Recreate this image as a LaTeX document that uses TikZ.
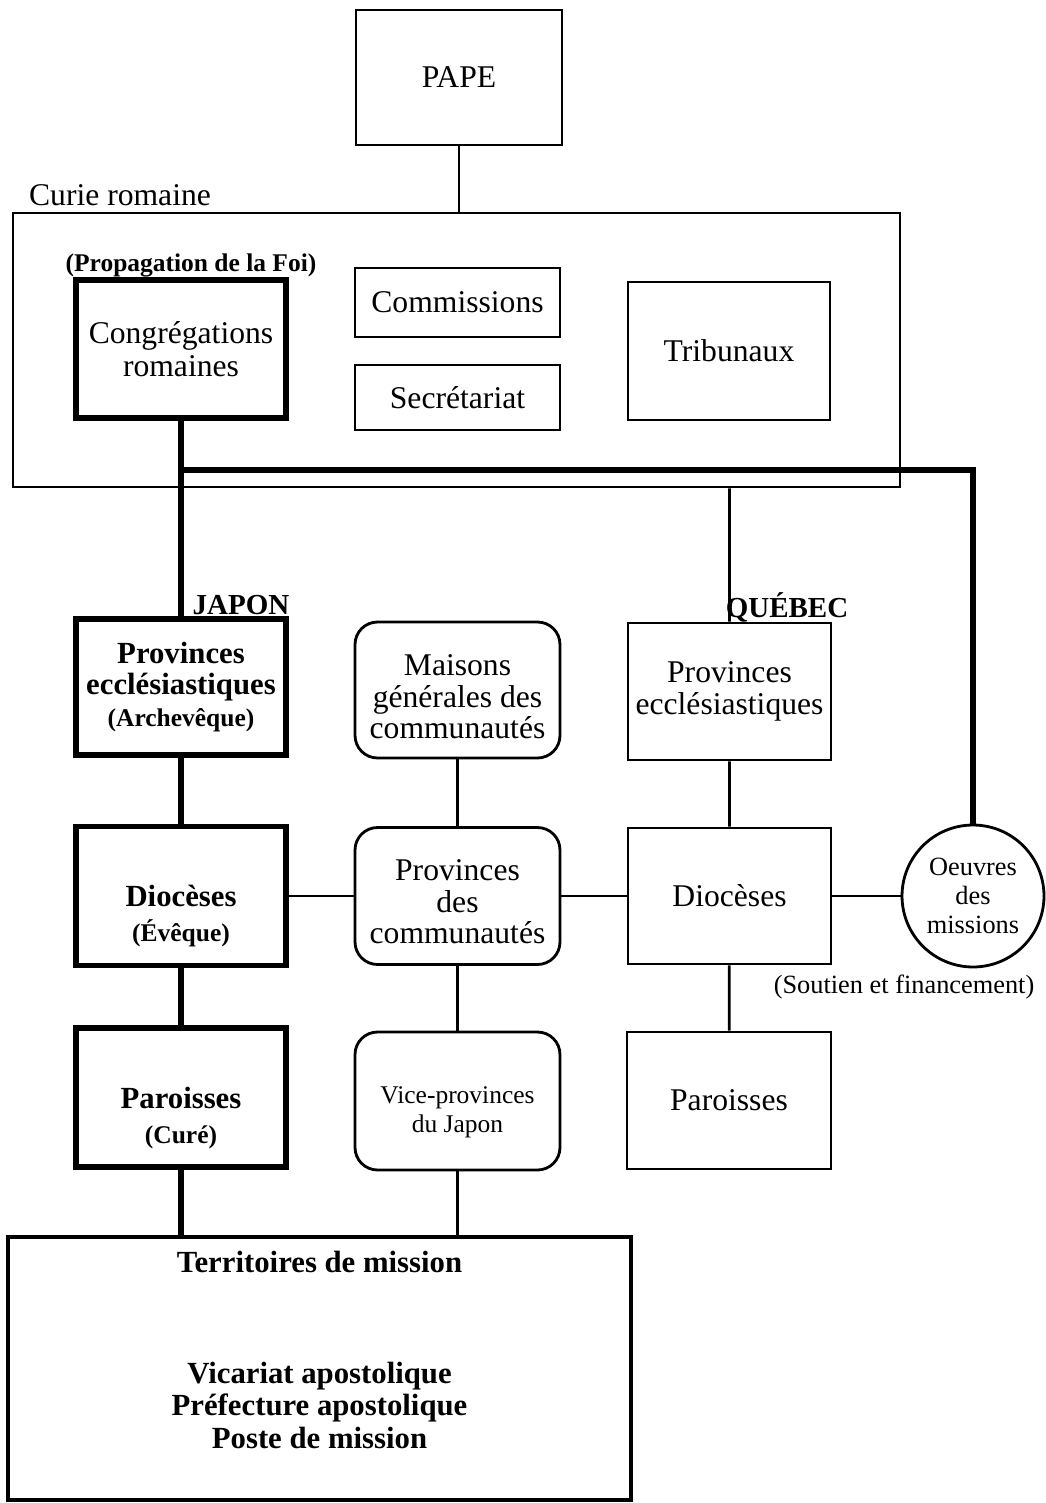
\documentclass[tikz,border=0pt]{standalone}
\usepackage{fontspec}
\setmainfont{Liberation Serif}
\usepackage{tikz}

\begin{document}
\begin{tikzpicture}[x=0.02cm, y=-0.02cm,
        box/.style={draw, line width=1.6pt, inner sep=0pt, align=center, font=\fontsize{18}{18}\selectfont},
        heavy/.style={box, line width=3pt},
        roundbox/.style={box, rounded corners=0.45cm},
        tag/.style={inner sep=0pt, align=center, font=\bfseries\fontsize{14.5}{16}\selectfont},
        plain/.style={inner sep=0pt, align=center, font=\fontsize{18}{18}\selectfont},
        link/.style={line width=1.6pt},
        biglink/.style={line width=3.4pt}]
                \useasboundingbox (0,0) rectangle (1045,1503);

                \node[box, minimum width=4.12cm, minimum height=2.7cm] (pape) at (459,77.5) {PAPE};
                \node[plain] (curieT) at (120,195) {Curie romaine};
                \node[box, minimum width=17.74cm, minimum height=5.48cm] (curie) at (456.5,350) {};

                \node[tag] (propag) at (191,265) {(Propagation de la Foi)};
                \node[heavy, minimum width=4.2cm, minimum height=2.76cm, font=\fontsize{18}{19}\selectfont] (cong) at (181,349) {Congrégations\\romaines};
                \node[box, minimum width=4.1cm, minimum height=1.38cm] (comm) at (457.5,302.5) {Commissions};
                \node[box, minimum width=4.1cm, minimum height=1.3cm] (secr) at (457.5,397.5) {Secrétariat};
                \node[box, minimum width=4.04cm, minimum height=2.76cm] (trib) at (729,351) {Tribunaux};

                \node[tag, font=\bfseries\fontsize{16.5}{18}\selectfont] (japon) at (241,605) {JAPON};
                \node[tag, font=\bfseries\fontsize{16.5}{18}\selectfont] (quebec) at (787,607) {QUÉBEC};

                \node[heavy, minimum width=4.2cm, minimum height=2.72cm, font=\bfseries\fontsize{17.5}{18}\selectfont] (provJ) at (181,687)
                    {Provinces\\ecclésiastiques\\{\fontsize{14.5}{15}\selectfont(Archevêque)}};
                \node[heavy, minimum width=4.2cm, minimum height=2.78cm, font=\bfseries\fontsize{17.5}{18}\selectfont] (dioJ) at (181,896) {Diocèses};
                \node[tag] (eveque) at (181,933) {(Évêque)};
                \node[heavy, minimum width=4.2cm, minimum height=2.78cm, font=\bfseries\fontsize{17.5}{18}\selectfont] (parJ) at (181,1097.5) {Paroisses};
                \node[tag] (cure) at (181,1137) {(Curé)};

                \node[roundbox, minimum width=4.1cm, minimum height=2.72cm] (maisons) at (457.5,690) {};
                \node[plain] (maisonsT) at (457.5,697) {Maisons\\générales des\\communautés};
                \node[roundbox, minimum width=4.1cm, minimum height=2.74cm] (provC) at (457.5,896) {};
                \node[plain] (provCT) at (457.5,902) {Provinces\\des\\communautés};
                \node[roundbox, minimum width=4.1cm, minimum height=2.76cm] (vice) at (457.5,1101) {};
                \node[plain, font=\fontsize{14.5}{16.5}\selectfont] (viceT) at (457.5,1112) {Vice-provinces\\du Japon};

                \node[box, minimum width=4.06cm, minimum height=2.74cm] (provQ) at (729.5,691.5) {Provinces\\ecclésiastiques};
                \node[box, minimum width=4.06cm, minimum height=2.72cm] (dioQ) at (729.5,896) {Diocèses};
                \node[box, minimum width=4.08cm, minimum height=2.74cm] (parQ) at (729,1100.5) {Paroisses};

                \node[box, circle, minimum size=2.84cm, font=\fontsize{15}{16.5}\selectfont] (oeuvres) at (973,896) {Oeuvres\\des\\missions};
                \node[plain, font=\fontsize{15}{16}\selectfont] (soutien) at (904,987) {(Soutien et financement)};

                \node[box, line width=2.3pt, minimum width=12.46cm, minimum height=5.26cm] (terr) at (319.5,1368.5) {};
                \node[plain, font=\bfseries\fontsize{17.5}{18}\selectfont] (terrT) at (319.5,1262) {Territoires de mission};
                \node[plain, font=\bfseries\fontsize{17.5}{18.5}\selectfont] (terrL) at (319.5,1405)
                    {Vicariat apostolique\\Préfecture apostolique\\Poste de mission};

                \coordinate (jL) at (181,470);

                \draw[link] (pape) -- (pape |- curie.north);
                \draw[biglink] (cong) -- (provJ) -- (dioJ) -- (parJ) -- (parJ |- terr.north);
                \draw[biglink] (jL) -| (oeuvres);
                \draw[link] (curie.south -| provQ) -- (provQ) -- (dioQ) -- (parQ);
                \draw[link] (maisons) -- (provC) -- (vice) -- (vice |- terr.north);
                \draw[link] (dioJ) -- (provC) -- (dioQ) -- (oeuvres);
            \end{tikzpicture}
\end{document}
